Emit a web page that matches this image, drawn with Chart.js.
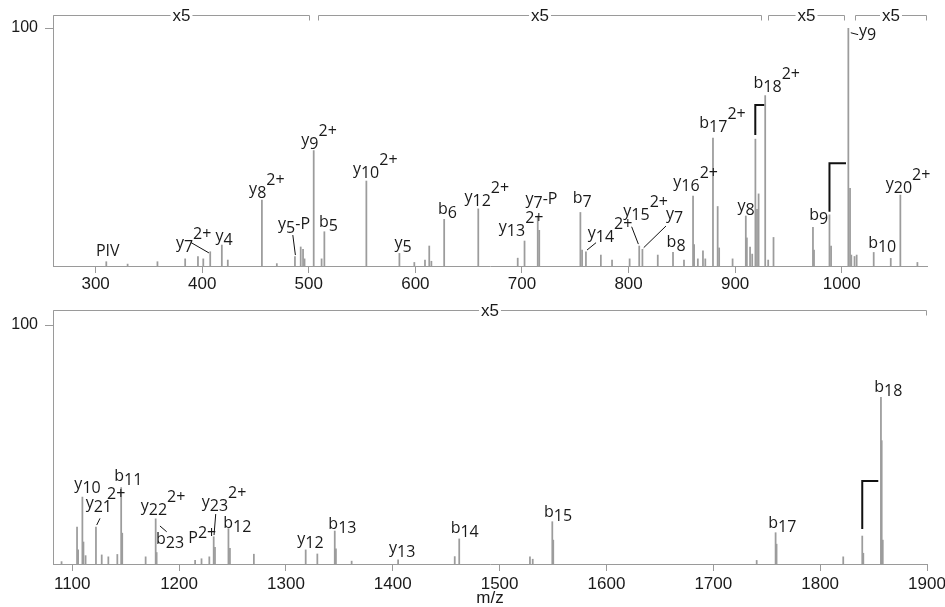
<!DOCTYPE html>
<html lang="en">
<head>
<meta charset="UTF-8" />
<title>MS/MS spectrum</title>
<script src="https://cdn.jsdelivr.net/npm/chart.js"></script>
<style>
  body { margin: 0; background: #fff; }
  #wrap { position: relative; width: 945px; height: 607px; }
  canvas { position: absolute; left: 0; }
  #topChart { top: 0; }
  #bottomChart { top: 300px; }
</style>
</head>
<body>
<div id="wrap">
  <canvas id="topChart" width="945" height="300"></canvas>
  <canvas id="bottomChart" width="945" height="307"></canvas>
</div>
<script>
// ---- spectrum data (m/z, relative intensity %) ----
const topMz = [310, 330, 358, 384, 396, 401, 407.5, 418.4, 424, 456, 470, 487, 492.4, 494.6, 496,
  504.6, 512, 514.6, 554, 585, 599, 609, 613, 615, 627, 659, 696, 702.4, 714.8, 716.2,
  754.8, 756.4, 760, 774, 784.5, 801, 810, 813, 827.4, 841.7, 852, 860.5, 861.5, 865, 869.8,
  872, 879.2, 883.6, 885, 897.6, 910, 911, 914, 916, 919, 920.5, 922, 928.2, 931, 936,
  973, 974, 988.5, 990, 1006.2, 1007.8, 1009, 1012, 1014, 1030, 1046, 1055, 1071];
const topInt = [1.8, 0.8, 1.8, 3, 4, 3, 6, 8.8, 2.5, 27.7, 1, 4, 8, 7, 3,
  48.5, 3, 14.4, 35.7, 5.3, 1.5, 2.5, 8.4, 2, 19.6, 24, 3.3, 10.5, 21, 15,
  22.5, 6.7, 6, 4.6, 2.5, 3, 8.4, 7, 4.6, 5.7, 2.5, 29.4, 9, 3, 6.4,
  3, 53.7, 25, 7.6, 3, 21, 11.8, 8, 5, 53.3, 23.8, 30.3, 71.6, 2.5, 12,
  16.2, 6.7, 21.5, 8.4, 100, 32.6, 4.6, 4, 4.6, 5.7, 3.2, 29.8, 1.5];

const bottomMz = [1090, 1104.5, 1105.5, 1109.5, 1110.5, 1112.5, 1122.2, 1127.6, 1133.8, 1142.2,
  1145.8, 1146.8, 1168.7, 1178.1, 1179, 1215, 1221, 1228.3, 1232.4, 1233.6, 1246.2, 1247.6,
  1270, 1318.5, 1329.4, 1345.7, 1346.8, 1361.5, 1405, 1458, 1462.2, 1528.4, 1531, 1549.3,
  1550.2, 1740.6, 1758.3, 1759.2, 1821.6, 1839.4, 1840.4, 1856.9, 1857.6, 1858.6];
const bottomInt = [1, 15.5, 5.9, 28, 9.2, 3.5, 15.5, 3.8, 3, 4,
  32, 12.9, 3, 18.9, 4.8, 1.5, 2.2, 3, 11.4, 7, 14.8, 6.6,
  4.1, 5.9, 4.2, 13.8, 6.3, 1.2, 1.7, 3.1, 10.5, 3, 2, 17.7,
  10, 1.5, 13.1, 8.3, 3, 11.7, 4.5, 69.7, 51.6, 10];

// axis ranges and "x5" magnified regions
const topRange = [260, 1080];
const bottomRange = [1082, 1900];
const topZoomRegions = [[260, 501], [509, 925], [931, 1003], [1012, 1080]];
const bottomZoomRegions = [[1082, 1900]];
const zoomLabel = 'x5';

// ion annotations: text, subscript, superscript, anchor (m/z, %)
const topIons = [
  { t: 'PIV', x: 300.3, y: 4.0 },
  { t: 'y', sub: '7', sup: '2+', x: 375.3, y: 7.4 },
  { t: 'y', sub: '4', x: 412.5, y: 10.5 },
  { t: 'y', sub: '8', sup: '2+', x: 444, y: 30.1 },
  { t: 'y', sub: '5', post: '-P', x: 471.2, y: 15.4 },
  { t: 'y', sub: '9', sup: '2+', x: 493, y: 51.0 },
  { t: 'b', sub: '5', x: 509.6, y: 16.5 },
  { t: 'y', sub: '10', sup: '2+', x: 541.4, y: 38.5 },
  { t: 'y', sub: '5', x: 580.5, y: 7.7 },
  { t: 'b', sub: '6', x: 621.1, y: 21.8 },
  { t: 'y', sub: '12', sup: '2+', x: 646.1, y: 26.9 },
  { t: 'y', sub: '13', sup: '2+', x: 678.3, y: 14.3 },
  { t: 'y', sub: '7', post: '-P', x: 703.3, y: 25.9 },
  { t: 'b', sub: '7', x: 747.6, y: 26.6 },
  { t: 'y', sub: '14', sup: '2+', x: 761.7, y: 11.9 },
  { t: 'y', sub: '15', sup: '2+', x: 795.1, y: 21.0 },
  { t: 'y', sub: '7', x: 835.1, y: 19.6 },
  { t: 'b', sub: '8', x: 835.7, y: 8.1 },
  { t: 'y', sub: '16', sup: '2+', x: 842, y: 33.2 },
  { t: 'b', sub: '17', sup: '2+', x: 866.4, y: 58.1 },
  { t: 'y', sub: '8', x: 902.3, y: 23.1 },
  { t: 'b', sub: '18', sup: '2+', x: 917.3, y: 74.6 },
  { t: 'b', sub: '9', x: 969.5, y: 19.3 },
  { t: 'y', sub: '9', x: 1016.3, y: 96.6 },
  { t: 'b', sub: '10', x: 1024.8, y: 7.7 },
  { t: 'y', sub: '20', sup: '2+', x: 1041.3, y: 32.5 }
];
const bottomIons = [
  { t: 'y', sub: '10', x: 1102, y: 31.3 },
  { t: 'y', sub: '21', sup: '2+', supDx: -5, x: 1112.6, y: 23.6 },
  { t: 'b', sub: '11', x: 1139.4, y: 34.7 },
  { t: 'y', sub: '22', sup: '2+', x: 1164.1, y: 22.2 },
  { t: 'b', sub: '23', x: 1178.4, y: 8.2 },
  { t: 'P', sup: '2+', supDy: 5, x: 1208.6, y: 8.7 },
  { t: 'y', sub: '23', sup: '2+', x: 1221.2, y: 24.0 },
  { t: 'b', sub: '12', x: 1241.4, y: 15.2 },
  { t: 'y', sub: '12', x: 1310.6, y: 8.2 },
  { t: 'b', sub: '13', x: 1339.7, y: 14.5 },
  { t: 'y', sub: '13', x: 1396.5, y: 4.7 },
  { t: 'b', sub: '14', x: 1454.2, y: 12.8 },
  { t: 'b', sub: '15', x: 1541.5, y: 19.8 },
  { t: 'b', sub: '17', x: 1751.4, y: 15.2 },
  { t: 'b', sub: '18', x: 1850.6, y: 72 }
];

// leader lines [x1, y1, x2, y2] and isotope brackets [xPeak, yLow, xEnd, yTop]
const topLeaders = [[389.3, 9.9, 406.3, 5.5], [485, 13.0, 487.4, 4.6], [761.0, 6.7, 769.5, 9.8],
  [802.9, 16.5, 809.2, 9.2], [835.1, 16.8, 814.2, 7.7], [1008.5, 98.0, 1015.4, 97.2]];
const bottomLeaders = [[1122.9, 16.3, 1126, 19.1], [1182.1, 15.9, 1188.4, 13.5], [1234.3, 20.9, 1232.7, 12.1]];
const topIsotopes = [[918.9, 55.0, 927.3, 67.6], [988.5, 22.8, 1004, 43.2]];
const bottomIsotopes = [[1839.4, 14.6, 1854.4, 34.7]];

const axisColor = '#9a9a9a';
const peakColor = '#9c9c9c';
const textColor = '#1a1a1a';
const ionFont = '16px "Open Sans", sans-serif';
const axisFont = { family: '"Liberation Sans", Arial, sans-serif', size: 17 };

function drawIon(ctx, x, y, ion) {
  ctx.font = ionFont;
  ctx.fillText(ion.t, x, y);
  let cx = x + ctx.measureText(ion.t).width;
  if (ion.sub) {
    ctx.fillText(ion.sub, cx, y + 4);
    cx += ctx.measureText(ion.sub).width;
  }
  if (ion.post) {
    ctx.fillText(ion.post, cx, y);
    cx += ctx.measureText(ion.post).width;
  }
  if (ion.sup) {
    const sy = ion.sub ? y - 9 : y - 10 + (ion.supDy || 0);
    ctx.fillText(ion.sup, cx + (ion.supDx || 0), sy);
  }
}

const spectrumDecor = {
  id: 'spectrumDecor',
  afterDraw(chart, args, opts) {
    const ctx = chart.ctx;
    const xs = chart.scales.x, ys = chart.scales.y, area = chart.chartArea;
    const px = v => xs.getPixelForValue(v), py = v => ys.getPixelForValue(v);
    const topY = Math.round(area.top - opts.bracketGap) + 0.5;
    ctx.save();

    // y axis runs up to the bracket line
    ctx.strokeStyle = axisColor;
    ctx.lineWidth = 1;
    ctx.beginPath();
    ctx.moveTo(Math.round(area.left) + 0.5, topY);
    ctx.lineTo(Math.round(area.left) + 0.5, area.top);
    ctx.stroke();

    // x5 brackets
    ctx.font = '17px "Liberation Sans", Arial, sans-serif';
    ctx.textAlign = 'center';
    ctx.textBaseline = 'middle';
    opts.regions.forEach(([a, b]) => {
      const x1 = Math.round(px(a)) + 0.5, x2 = Math.round(px(b)) - 0.5;
      ctx.strokeStyle = axisColor;
      ctx.beginPath();
      ctx.moveTo(x1, topY + 5);
      ctx.lineTo(x1, topY);
      ctx.lineTo(x2, topY);
      ctx.lineTo(x2, topY + 5);
      ctx.stroke();
      const mid = (x1 + x2) / 2;
      const w = ctx.measureText(zoomLabel).width + 4;
      ctx.fillStyle = '#fff';
      ctx.fillRect(mid - w / 2, topY - 8, w, 16);
      ctx.fillStyle = textColor;
      ctx.fillText(zoomLabel, mid, topY + 1);
    });

    // isotope brackets
    ctx.strokeStyle = '#111';
    ctx.lineWidth = 2;
    opts.isotopes.forEach(([x0, y0, x1, y1]) => {
      ctx.beginPath();
      ctx.moveTo(px(x0), py(y0));
      ctx.lineTo(px(x0), py(y1));
      ctx.lineTo(px(x1), py(y1));
      ctx.stroke();
    });

    // leader lines
    ctx.lineWidth = 1;
    opts.leaders.forEach(([x0, y0, x1, y1]) => {
      ctx.beginPath();
      ctx.moveTo(px(x0), py(y0));
      ctx.lineTo(px(x1), py(y1));
      ctx.stroke();
    });

    // ion labels
    ctx.fillStyle = textColor;
    ctx.textAlign = 'left';
    ctx.textBaseline = 'alphabetic';
    opts.ions.forEach(ion => drawIon(ctx, px(ion.x), py(ion.y), ion));

    if (opts.title) {
      ctx.font = '17px "Liberation Sans", Arial, sans-serif';
      ctx.textAlign = 'center';
      ctx.textBaseline = 'middle';
      ctx.fillText(opts.title, (area.left + area.right) / 2, area.bottom + 34);
    }
    ctx.restore();
  }
};

function makeSpectrum(id, mz, inten, range, cfg) {
  return new Chart(document.getElementById(id), {
    type: 'bar',
    data: {
      datasets: [{
        data: mz.map((m, i) => ({ x: m, y: inten[i] })),
        backgroundColor: peakColor,
        borderWidth: 0,
        barThickness: 1.1,
        grouped: false
      }]
    },
    options: {
      responsive: false,
      animation: false,
      devicePixelRatio: 1,
      events: [],
      layout: { padding: { top: cfg.padTop, right: 18, left: 0, bottom: 0 } },
      plugins: {
        legend: { display: false },
        tooltip: { enabled: false },
        spectrumDecor: {
          bracketGap: cfg.bracketGap,
          regions: cfg.regions,
          ions: cfg.ions,
          leaders: cfg.leaders,
          isotopes: cfg.isotopes,
          title: cfg.title
        }
      },
      scales: {
        x: {
          type: 'linear',
          min: range[0],
          max: range[1],
          offset: false,
          grid: { offset: false, drawOnChartArea: false, tickLength: 7, color: axisColor },
          border: { color: axisColor },
          ticks: {
            stepSize: 100, includeBounds: false, autoSkip: false, maxRotation: 0,
            padding: cfg.tickPad, color: textColor, font: axisFont,
            callback: v => String(v)
          },
          afterFit(s) { s.height = cfg.xHeight; s.paddingLeft = 0; s.paddingRight = 0; }
        },
        y: {
          min: 0,
          max: 100,
          grid: { drawOnChartArea: false, tickLength: 8, color: axisColor },
          border: { color: axisColor },
          ticks: { padding: 7, color: textColor, font: { family: axisFont.family, size: 16 } },
          afterBuildTicks(s) { s.ticks = [{ value: 100 }]; },
          afterFit(s) { s.width = 53; s.paddingTop = 0; s.paddingBottom = 0; }
        }
      }
    },
    plugins: [spectrumDecor]
  });
}

makeSpectrum('topChart', topMz, topInt, topRange, {
  padTop: 28, bracketGap: 13, xHeight: 34, tickPad: 1,
  regions: topZoomRegions, ions: topIons, leaders: topLeaders, isotopes: topIsotopes
});
makeSpectrum('bottomChart', bottomMz, bottomInt, bottomRange, {
  padTop: 25, bracketGap: 15, xHeight: 43, tickPad: 3,
  regions: bottomZoomRegions, ions: bottomIons, leaders: bottomLeaders, isotopes: bottomIsotopes,
  title: 'm/z'
});
</script>
</body>
</html>
